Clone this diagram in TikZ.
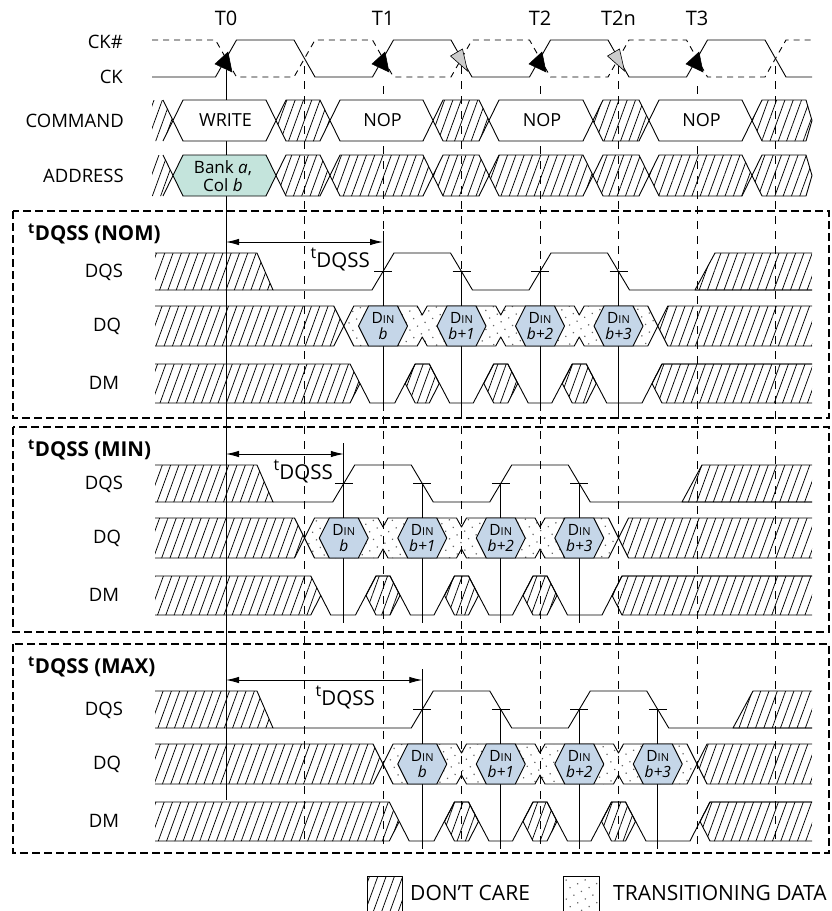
\documentclass[tikz,border=0pt]{standalone}
\usepackage{fontspec}
\setmainfont{Open Sans}
\usetikzlibrary{arrows.meta}
\usetikzlibrary{patterns.meta}
\definecolor{addrfill}{RGB}{196,228,220}
\definecolor{dinfill}{RGB}{197,214,232}
\tikzstyle{sig} = [line width=0.9pt, line join=round]
\tikzstyle{hatch} = [pattern={Lines[angle=70,distance=7.8pt,line width=0.75pt]}]
\tikzstyle{trans} = [pattern={Dots[angle=27,distance=8.5pt,radius=0.85pt]}, pattern color=black!60]
\tikzstyle{clkgrid} = [line width=0.6pt, dash pattern=on 8pt off 7pt]
\tikzstyle{sectbox} = [line width=1.5pt, dash pattern=on 8pt off 4pt]
\tikzstyle{din} = [align=center, font=\fontsize{15.5}{16}\selectfont]

\begin{document}
\begin{tikzpicture}[x=1pt,y=-1pt,inner sep=0pt,font=\fontsize{18.5}{20}\selectfont]
\useasboundingbox (0,0) rectangle (832,911);
    % Clock grid
    \foreach \x in {304.5,461.5,618.5,775.5}
        \draw[clkgrid] (\x,66) -- (\x,845);
    \foreach \x in {383,540,697}
        \draw[clkgrid] (\x,86) -- (\x,845);
    \draw[sig] (226,70) -- (226,800);
    % Clock edge labels
    \foreach \x/\t in {226/T0,383/T1,540/T2,618.5/T2n,697/T3}
        \node[font=\fontsize{20}{20}\selectfont] (\t) at (\x,18) {\t};
    % CK and CK#
    \draw[sig] (152,77) \foreach \e in {226,383,540,697} {
        -- (\e-10.5,77) -- (\e+10.5,40) -- (\e+68,40) -- (\e+89,77) } -- (812,77);
    \draw[sig,dash pattern=on 6pt off 5pt] (152,40) \foreach \e in {226,383,540,697} {
        -- (\e-10.5,40) -- (\e+10.5,77) -- (\e+68,77) -- (\e+89,40) } -- (812,40);
    \foreach \e in {226,383,540,697}
        \filldraw[line width=0.5pt] (\e+2,52) -- (\e-11,64) -- (\e+6,72) -- cycle;
    \foreach \e in {461.5,618.5}
        \filldraw[line width=0.6pt,fill=black!20] (\e-11,56) -- (\e+1,49) -- (\e+6,71) -- cycle;
    \node[anchor=east] (ckn) at (123,42) {CK\#};
    \node[anchor=east] (ck) at (123,77) {CK};
    \node[anchor=east] (cmd) at (124,120.5) {COMMAND};
    \node[anchor=east] (addr) at (124,175.5) {ADDRESS};
    % COMMAND bus
    \path[hatch] (152,100) -- (163,100) -- (173,120.5) -- (163,141) -- (152,141) -- cycle;
    \draw[sig] (163,100) -- (173,120.5) -- (163,141);
    \foreach \a/\b in {276/330,433/489,593/649}
        \draw[sig,hatch] (\a,120.5) -- (\a+10,100) -- (\b-10,100) -- (\b,120.5) -- (\b-10,141) -- (\a+10,141) -- cycle;
    \draw[sig,hatch] (752,120.5) -- (762,100) -- (806,100) -- (812,120.5) -- (806,141) -- (762,141) -- cycle;
    \foreach \a/\b/\op [count=\i] in {173/276/WRITE,330/433/NOP,489/593/NOP,649/752/NOP} {
        \draw[sig,fill=white] (\a,120.5) -- (\a+10,100) -- (\b-10,100) -- (\b,120.5) -- (\b-10,141) -- (\a+10,141) -- cycle;
        \node[font=\fontsize{18}{18}\selectfont] (op\i) at ({(\a+\b)/2+1},120.5) {\op};
    }
    % ADDRESS bus
    \path[hatch] (152,155) -- (163,155) -- (173,175.5) -- (163,196) -- (152,196) -- cycle;
    \draw[sig] (163,155) -- (173,175.5) -- (163,196);
    \foreach \a/\b in {276/330,330/433,433/489,489/593,593/649,649/752}
        \draw[sig,hatch] (\a,175.5) -- (\a+10,155) -- (\b-10,155) -- (\b,175.5) -- (\b-10,196) -- (\a+10,196) -- cycle;
    \draw[sig,hatch] (752,175.5) -- (762,155) -- (806,155) -- (812,175.5) -- (806,196) -- (762,196) -- cycle;
    \draw[sig,fill=addrfill] (173,175.5) -- (183,155) -- (266,155) -- (276,175.5) -- (266,196) -- (183,196) -- cycle;
    \node[align=center,font=\fontsize{17}{18}\selectfont] (bank) at (223,176) {Bank \textit{a},\\Col \textit{b}};
    % tDQSS cases
    \foreach \hi/\s/\bt/\bb/\dqsend/\dmend/\labx/\nm in
        {253/0/-42/165/695/652/370/NOM, 465/-39.25/-38/167/682/612/333/MIN, 691/39.25/-47/162/733/700/375/MAX} {
    \begin{scope}[yshift=-\hi pt]
        \pgfmathsetmacro\ca{383+(\s)}
        \pgfmathsetmacro\cb{\ca+78.5}
        \pgfmathsetmacro\cc{\ca+157}
        \pgfmathsetmacro\cd{\ca+235.5}
        \pgfmathsetmacro\ma{\ca+39.25}
        \pgfmathsetmacro\mb{\ca+117.75}
        \pgfmathsetmacro\mc{\ca+196.25}
        \pgfmathsetmacro\xa{\ca-39.25}
        \pgfmathsetmacro\xe{\cd+39.25}
        \pgfmathsetmacro\xd{\ca-23}
        \draw[sectbox] (13,\bt) rectangle (829,\bb);
        \node[anchor=west,font=\bfseries\fontsize{20.5}{21}\selectfont] (title\nm) at (28,\bt+23) {\textsuperscript{t}DQSS (\nm)};
        \node (dqs\nm) at (104,19) {DQS};
        \node (dq\nm) at (107,73) {DQ};
        \node (dm\nm) at (104,130) {DM};
        % strobe edges
        \draw[sig] (\ca,-22) -- (\ca,158);
        \foreach \c in {\cb,\cc,\cd}
            \draw[sig] (\c,18.5) -- (\c,158);
        \foreach \c in {\ca,\cb,\cc,\cd}
            \draw[sig] (\c-9,18.5) -- (\c+9,18.5);
        \draw[sig,>={Latex[length=13pt,width=6.5pt]},<->] (226,-11) -- (\ca,-11);
        \node[anchor=base east] (tdqss\nm) at (\labx,14)
            {{\fontsize{16}{16}\selectfont\raisebox{9pt}{t}}\fontsize{20.5}{21}\selectfont DQSS};
        % DQS
        \draw[sig,hatch] (155,0) -- (257,0) -- (273,37) -- (155,37);
        \draw[sig] (273,37) -- (\ca-11,37) -- (\ca+11,0) -- (\cb-11,0) -- (\cb+11,37) -- (\cc-11,37)
            -- (\cc+11,0) -- (\cd-11,0) -- (\cd+11,37) -- (812,37);
        \draw[sig,hatch] (812,0) -- (\dqsend+20,0) -- (\dqsend,37) -- (812,37);
        % DQ
        \draw[sig,hatch] (155,53) -- (\xa-10,53) -- (\xa,73) -- (\xa-10,93) -- (155,93);
        \draw[sig,trans] (\xa,73) -- (\xa+10,53) \foreach \m in {\ma,\mb,\mc} { -- (\m-5,53) -- (\m,62) -- (\m+5,53) }
            -- (\xe-10,53) -- (\xe,73) -- (\xe-10,93) \foreach \m in {\mc,\mb,\ma} { -- (\m+5,93) -- (\m,84) -- (\m-5,93) }
            -- (\xa+10,93) -- cycle;
        \draw[sig,hatch] (812,53) -- (\xe+10,53) -- (\xe,73) -- (\xe+10,93) -- (812,93);
        \foreach \c/\k [count=\i] in {\ca/b,\cb/b+1,\cc/b+2,\cd/b+3} {
            \draw[sig,fill=dinfill] (\c-24.5,73) -- (\c-14.5,53) -- (\c+14.5,53) -- (\c+24.5,73) -- (\c+14.5,93) -- (\c-14.5,93) -- cycle;
            \node[din] (din\nm\i) at (\c,73) {D{\fontsize{11}{11}\selectfont IN}\\\textit{\k}};
        }
        % DM
        \draw[sig,hatch] (155,111) -- (\xd-10,111) -- (\xd,130.5) -- (\xd-10,150) -- (155,150);
        \draw[sig] (\xd,130.5) -- (\xd+10,150) \foreach \m in {\ma,\mb,\mc} {
            -- (\m-27.5,150) -- (\m-7,111) -- (\m+7,111) -- (\m+27.5,150) }
            -- (\dmend-10,150) -- (\dmend+10,111) -- (812,111);
        \foreach \m in {\ma,\mb,\mc}
            \draw[sig,hatch] (\m-17,130.5) -- (\m-7,111) -- (\m+7,111) -- (\m+17,130.5) -- (\m+7,150) -- (\m-7,150) -- cycle;
        \draw[sig,hatch] (812,150) -- (\dmend+10,150) -- (\dmend,130.5) -- (\dmend+10,111) -- (812,111);
    \end{scope}
    }
    % Legend
    \draw[sig,hatch] (367,876) rectangle (402,913);
    \node[anchor=west,font=\fontsize{21}{21}\selectfont] (dontcare) at (410,893) {DON’T CARE};
    \draw[sig,trans] (563,876) rectangle (599,913);
    \node[anchor=west,font=\fontsize{21}{21}\selectfont] (transdata) at (613,893) {TRANSITIONING DATA};
\end{tikzpicture}
\end{document}
